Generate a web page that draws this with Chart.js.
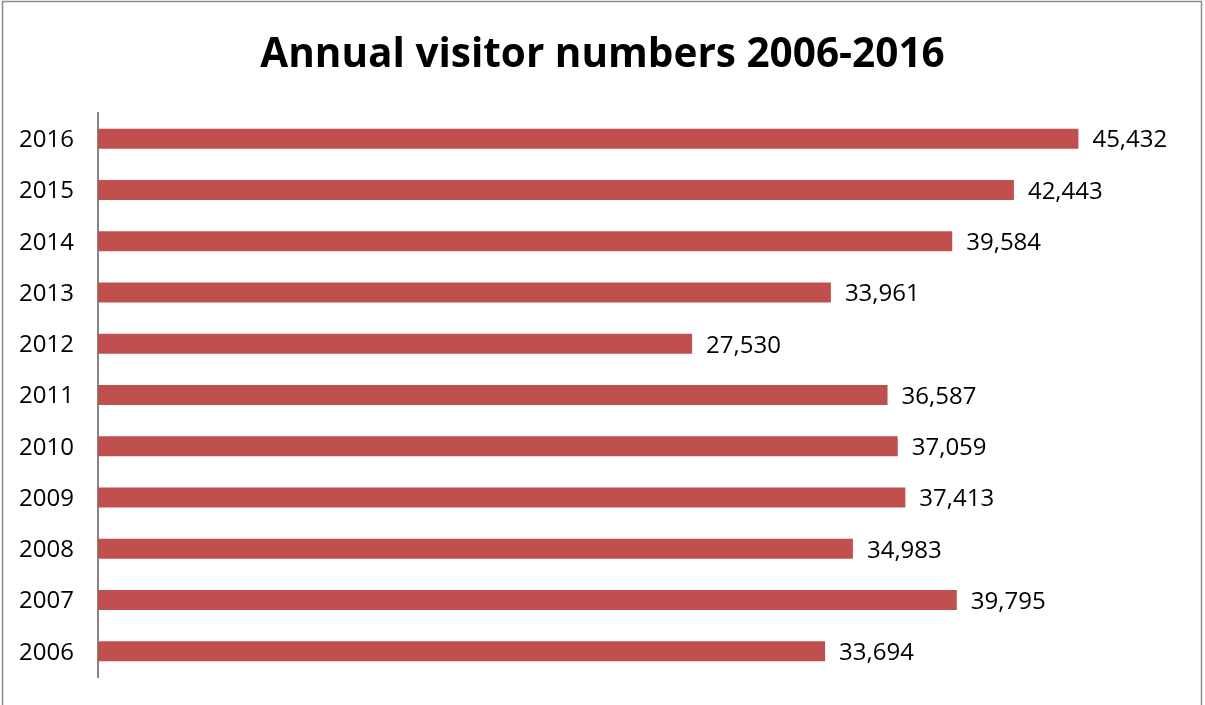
<!DOCTYPE html>
<html>
<head>
<meta charset="utf-8">
<script src="https://cdn.jsdelivr.net/npm/chart.js@4"></script>
<style>
  html, body { margin: 0; padding: 0; background: #fff; }
  #wrap { position: relative; width: 1205px; height: 705px; }
</style>
</head>
<body>
<div id="wrap"><canvas id="chart" width="1205" height="705"></canvas></div>
<script>
const years = ['2016', '2015', '2014', '2013', '2012', '2011', '2010', '2009', '2008', '2007', '2006'];
const visitors = [45432, 42443, 39584, 33961, 27530, 36587, 37059, 37413, 34983, 39795, 33694];
const axisMax = 50000;
const chartTitle = 'Annual visitor numbers 2006-2016';

const FONT = "'Open Sans', sans-serif";

// outer frame plus the centred heading
const framePlugin = {
    id: 'frame',
    beforeDraw(chart) {
        const ctx = chart.ctx;
        ctx.save();
        ctx.strokeStyle = '#8c8c8c';
        ctx.lineWidth = 1.5;
        ctx.strokeRect(2.5, 1.5, 1199, 740);
        ctx.font = 'bold 40.5px ' + FONT;
        ctx.fillStyle = '#000';
        ctx.textAlign = 'center';
        ctx.textBaseline = 'alphabetic';
        ctx.fillText(chartTitle, chart.width / 2, 67);
        ctx.restore();
    }
};

// value text to the right of each bar
const valueLabels = {
    id: 'valueLabels',
    afterDatasetsDraw(chart) {
        const ctx = chart.ctx;
        const meta = chart.getDatasetMeta(0);
        ctx.save();
        ctx.font = '24px ' + FONT;
        ctx.fillStyle = '#000';
        ctx.textAlign = 'left';
        ctx.textBaseline = 'middle';
        meta.data.forEach((bar, i) => {
            ctx.fillText(visitors[i].toLocaleString('en-US'), bar.x + 14, bar.y + 2);
        });
        ctx.restore();
    }
};

new Chart(document.getElementById('chart'), {
    type: 'bar',
    data: {
        labels: years,
        datasets: [{
            data: visitors,
            backgroundColor: '#C0504D',
            borderWidth: 0,
            categoryPercentage: 1,
            barPercentage: 0.39
        }]
    },
    options: {
        indexAxis: 'y',
        responsive: false,
        animation: false,
        layout: { padding: { left: 0, right: 28, top: 113, bottom: 28 } },
        scales: {
            x: { display: false, min: 0, max: axisMax },
            y: {
                grid: { display: false, drawTicks: false },
                border: { color: '#868686', width: 2 },
                ticks: { color: '#000', font: { family: FONT, size: 24 }, padding: 24, labelOffset: 1.5 },
                afterFit(scale) {
                    scale.width = 98;
                    scale.paddingTop = 0;
                    scale.paddingBottom = 0;
                }
            }
        },
        plugins: {
            legend: { display: false },
            tooltip: { enabled: false },
            title: { display: false }
        }
    },
    plugins: [framePlugin, valueLabels]
});
</script>
</body>
</html>
